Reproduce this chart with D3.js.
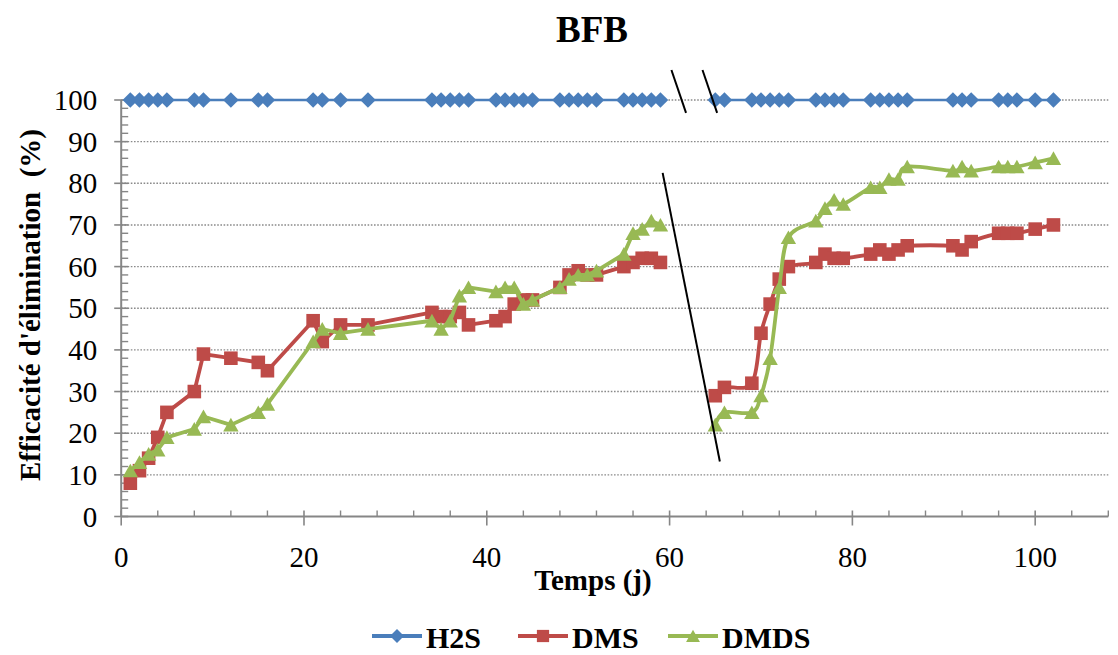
<!DOCTYPE html>
<html><head><meta charset="utf-8">
<script src="https://cdn.jsdelivr.net/npm/d3@7"></script>
<style>
body{margin:0;background:#fff}
svg{display:block}
svg text{font-family:'Liberation Serif' !important}
</style>
</head><body>
<svg id="c" width="1118" height="655"></svg>
<script>
// ---- data ----
const days = [1,2,3,4,5,8,9,12,15,16,21,22,24,27,34,35,36,37,38,41,42,43,44,45,48,49,50,51,52,55,56,57,58,59,
              65,66,69,70,71,72,73,76,77,78,79,82,83,84,85,86,91,92,93,96,97,98,100,102];
const h2s  = [100,100,100,100,100,100,100,100,100,100,100,100,100,100,100,100,100,100,100,100,100,100,100,100,100,100,100,100,100,100,100,100,100,100,
              100,100,100,100,100,100,100,100,100,100,100,100,100,100,100,100,100,100,100,100,100,100,100,100];
const dms  = [8,11,14,19,25,30,39,38,37,35,47,42,46,46,49,48,48,49,46,47,48,51,52,52,55,58,59,58,58,60,61,62,62,61,
              29,31,32,44,51,57,60,61,63,62,62,63,64,63,64,65,65,64,66,68,68,68,69,70];
const dmds = [11,13,15,16,19,21,24,22,25,27,42,45,44,45,47,45,47,53,55,54,55,55,51,52,55,57,58,58,59,63,68,69,71,70,
              22,25,25,29,38,55,67,71,74,76,75,79,79,81,81,84,83,84,83,84,84,84,85,86];
const seriesNames = ["H2S","DMS","DMDS"];
const xTickLabels = [0,20,40,60,80,100];
const yTickLabels = [0,10,20,30,40,50,60,70,80,90,100];
const breakDay = 62;
// break marks (data units)
const breakShort = [[[60.2,107.2],[61.8,96.9]],[[63.6,107.2],[65.2,96.9]]];
const breakLong = [[59.24,82.5],[65.5,13.2]];

// ---- drawing ----
const FONT = "Liberation Serif";
const svg = d3.select("#c");
const x = d3.scaleLinear().domain([0,108]).range([121.2,1108.3]);
const y = d3.scaleLinear().domain([0,100]).range([516.5,100]);
const colors = {H2S:"#4A7EBB",DMS:"#BE4B48",DMDS:"#98B954"};
const axisColor = "#868686";

function txt(sel){ return sel.attr("font-family",FONT).style("font-family","'Liberation Serif'"); }

// gridlines
svg.append("g").selectAll("line").data(yTickLabels.filter(v=>v>0)).join("line")
  .attr("x1",x(0)).attr("x2",x(108)).attr("y1",d=>y(d)).attr("y2",d=>y(d))
  .attr("stroke","#8a8a8a").attr("stroke-width",1.4).attr("stroke-dasharray","1.6,1.6");

// axes lines
const ax = svg.append("g").attr("stroke",axisColor);
ax.append("line").attr("x1",x(0)).attr("x2",x(0)).attr("y1",y(0)).attr("y2",y(100)).attr("stroke-width",2);
ax.append("line").attr("x1",x(0)).attr("x2",x(108)).attr("y1",y(0)).attr("y2",y(0)).attr("stroke-width",2);
ax.selectAll(".ymaj").data(yTickLabels).join("line")
  .attr("x1",x(0)-7).attr("x2",x(0)+7).attr("y1",d=>y(d)).attr("y2",d=>y(d)).attr("stroke-width",1.6);
ax.selectAll(".ymin").data(d3.range(2,100,2).filter(v=>v%10)).join("line")
  .attr("x1",x(0)).attr("x2",x(0)+7).attr("y1",d=>y(d)).attr("y2",d=>y(d)).attr("stroke-width",1.4);
ax.selectAll(".xmaj").data(xTickLabels).join("line")
  .attr("x1",d=>x(d)).attr("x2",d=>x(d)).attr("y1",y(0)-6).attr("y2",y(0)+9).attr("stroke-width",1.6);
ax.selectAll(".xmin").data(d3.range(4,109,4).filter(v=>v%20)).join("line")
  .attr("x1",d=>x(d)).attr("x2",d=>x(d)).attr("y1",y(0)-6).attr("y2",y(0)).attr("stroke-width",1.4);

// tick labels
txt(svg.append("g").selectAll("text").data(yTickLabels).join("text"))
  .attr("x",x(0)-24).attr("y",d=>y(d)).attr("dy","0.35em").attr("text-anchor","end")
  .attr("font-size",29).text(d=>d);
txt(svg.append("g").selectAll("text").data(xTickLabels).join("text"))
  .attr("x",d=>x(d)).attr("y",567).attr("text-anchor","middle")
  .attr("font-size",29).text(d=>d);

// titles
txt(svg.append("text")).attr("x",592).attr("y",42).attr("text-anchor","middle")
  .attr("font-size",37).attr("font-weight","bold").text("BFB");
txt(svg.append("text")).attr("x",593).attr("y",590).attr("text-anchor","middle")
  .attr("font-size",29).attr("font-weight","bold").text("Temps (j)");
txt(svg.append("text")).attr("transform","translate(40,305) rotate(-90)").attr("text-anchor","middle")
  .attr("font-size",29).attr("font-weight","bold")
  .style("white-space","pre").text("Efficacité d'élimination  (%)");

// markers
const markerPath = {
  H2S: s => `M0,${-s}L${s},0L0,${s}L${-s},0Z`,
  DMS: s => `M${-s},${-s}H${s}V${s}H${-s}Z`,
  DMDS: s => `M0,${-s}L${s*1.1},${s*0.95}L${-s*1.1},${s*0.95}Z`
};
const markerSize = {H2S:7.8, DMS:6.8, DMDS:7};
const lineW = {H2S:2.6, DMS:3.8, DMDS:3.8};

const seriesVals = {H2S:h2s, DMS:dms, DMDS:dmds};
seriesNames.forEach(name=>{
  const pts = days.map((t,i)=>({t, v:seriesVals[name][i]}));
  const segA = pts.filter(p=>p.t<breakDay), segB = pts.filter(p=>p.t>breakDay);
  const g = svg.append("g");
  const lineA = d3.line().x(d=>x(d.t)).y(d=>y(d.v));
  const lineB = d3.line().x(d=>x(d.t)).y(d=>y(d.v)).curve(d3.curveCardinal.tension(0));
  g.append("path").attr("d",lineA(segA)).attr("fill","none").attr("stroke",colors[name])
    .attr("stroke-width",lineW[name]).attr("stroke-linejoin","round");
  g.append("path").attr("d",lineB(segB)).attr("fill","none").attr("stroke",colors[name])
    .attr("stroke-width",lineW[name]).attr("stroke-linejoin","round");
  g.selectAll(".m").data(pts).join("path")
    .attr("transform",d=>`translate(${x(d.t)},${y(d.v)})`)
    .attr("d",markerPath[name](markerSize[name])).attr("fill",colors[name]);
});

// break marks
const bl = d3.line().x(d=>x(d[0])).y(d=>y(d[1]));
breakShort.forEach(s=>svg.append("path").attr("d",bl(s)).attr("stroke","#000").attr("stroke-width",2).attr("fill","none"));
svg.append("path").attr("d",bl(breakLong)).attr("stroke","#000").attr("stroke-width",2).attr("fill","none");

// legend
const legX = {H2S:372, DMS:518, DMDS:668};
const lg = svg.append("g");
seriesNames.forEach(name=>{
  const x0 = legX[name];
  lg.append("line").attr("x1",x0).attr("x2",x0+50).attr("y1",636).attr("y2",636)
    .attr("stroke",colors[name]).attr("stroke-width",4);
  lg.append("path").attr("transform",`translate(${x0+25},636)`)
    .attr("d",markerPath[name](markerSize[name]*0.9)).attr("fill",colors[name]);
  txt(lg.append("text")).attr("x",x0+54).attr("y",648)
    .attr("font-size",30).attr("font-weight","bold").text(name);
});
</script>
</body></html>
